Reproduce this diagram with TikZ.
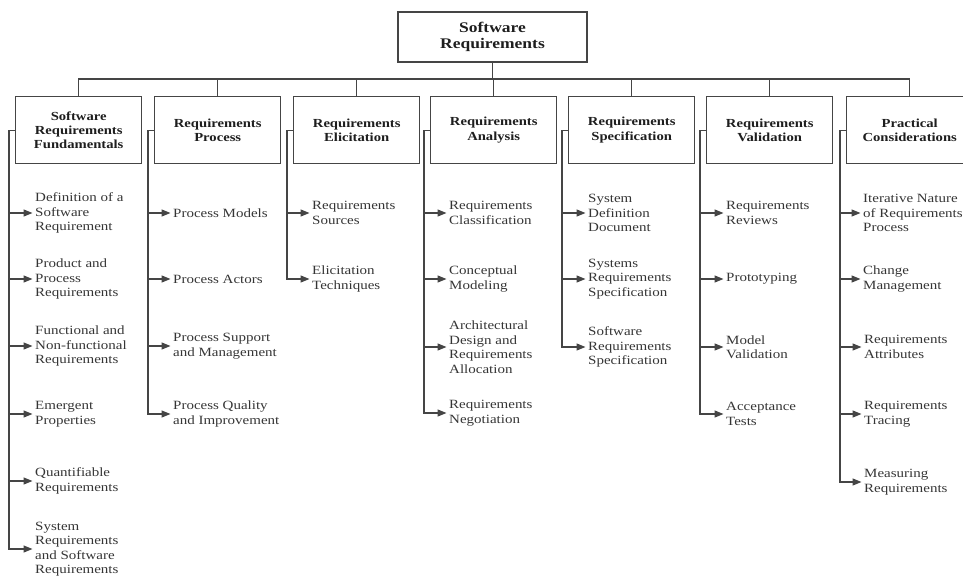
\documentclass[tikz,border=0pt]{standalone}
\usepackage{fontspec}
\setmainfont{Liberation Serif}[FakeStretch=1.19]
\usetikzlibrary{arrows.meta,calc}
\definecolor{linec}{HTML}{454545}
\definecolor{textc}{HTML}{353535}
\definecolor{headc}{HTML}{1E1E1E}
\begin{document}
\begin{tikzpicture}[x=1pt,y=-1pt,
  rootbox/.style={draw=linec,line width=1.4pt,minimum width=189pt,minimum height=50pt,inner sep=0pt,
    align=center,text=headc,font=\bfseries\fontsize{14.7}{16.6}\selectfont},
  headbox/.style={draw=linec,line width=1.4pt,minimum width=126pt,minimum height=67pt,inner sep=0pt,
    anchor=north west,align=center,text=headc,font=\bfseries\fontsize{12.3}{14.4}\selectfont},
  item/.style={anchor=west,align=left,inner sep=0pt,text=textc,font=\fontsize{12.6}{14.5}\selectfont},
  conn/.style={draw=linec,line width=1.3pt},
  arr/.style={conn,-{Triangle[length=9pt,width=7pt]},shorten >=2.5pt}
]
\path[use as bounding box] (0,0) rectangle (963,576);
\clip (0,0) rectangle (963,576);

% root
\node[rootbox] (root) at (492.5,37) {Software\\Requirements};
\coordinate (bus) at (0,79);

% headers
\node[headbox] (h1) at (15,96)  {Software\\Requirements\\Fundamentals};
\node[headbox] (h2) at (154,96) {Requirements\\Process};
\node[headbox] (h3) at (293,96) {Requirements\\Elicitation};
\node[headbox] (h4) at (430,96) {Requirements\\Analysis};
\node[headbox] (h5) at (568,96) {Requirements\\Specification};
\node[headbox] (h6) at (706,96) {Requirements\\Validation};
\node[headbox] (h7) at (846,96) {Practical\\Considerations};

% tree connectors
\draw[conn] (root.south) -- (root.south |- bus);
\draw[conn] (h1.north) -- (h1.north |- bus) -- (h7.north |- bus) -- (h7.north);
\foreach \k in {2,...,6} {\draw[conn] (h\k.north) -- (h\k.north |- bus);}

% column 1
\node[item] (a1) at (35,213) {Definition of a\\Software\\Requirement};
\node[item] (a2) at (35,279) {Product and\\Process\\Requirements};
\node[item] (a3) at (35,346) {Functional and\\Non-functional\\Requirements};
\node[item] (a4) at (35,414) {Emergent\\Properties};
\node[item] (a5) at (35,481) {Quantifiable\\Requirements};
\node[item] (a6) at (35,549) {System\\Requirements\\and Software\\Requirements};

% column 2
\node[item] (b1) at (173,213) {Process Models};
\node[item] (b2) at (173,279) {Process Actors};
\node[item] (b3) at (173,346) {Process Support\\and Management};
\node[item] (b4) at (173,414) {Process Quality\\and Improvement};

% column 3
\node[item] (c1) at (312,213) {Requirements\\Sources};
\node[item] (c2) at (312,279) {Elicitation\\Techniques};

% column 4
\node[item] (d1) at (449,213) {Requirements\\Classification};
\node[item] (d2) at (449,279) {Conceptual\\Modeling};
\node[item] (d3) at (449,347) {Architectural\\Design and\\Requirements\\Allocation};
\node[item] (d4) at (449,413) {Requirements\\Negotiation};

% column 5
\node[item] (e1) at (588,213) {System\\Definition\\Document};
\node[item] (e2) at (588,279) {Systems\\Requirements\\Specification};
\node[item] (e3) at (588,347) {Software\\Requirements\\Specification};

% column 6
\node[item] (f1) at (726,213) {Requirements\\Reviews};
\node[item] (f2) at (726,279) {Prototyping};
\node[item] (f3) at (726,347) {Model\\Validation};
\node[item] (f4) at (726,414) {Acceptance\\Tests};

% column 7
\node[item] (g1) at (863,213) {Iterative Nature\\of Requirements\\Process};
\node[item] (g2) at (863,279) {Change\\Management};
\node[item] (g3) at (864,347) {Requirements\\Attributes};
\node[item] (g4) at (864,414) {Requirements\\Tracing};
\node[item] (g5) at (864,482) {Measuring\\Requirements};

% side connectors with arrows
\foreach \h/\list in {h1/{a1,a2,a3,a4,a5,a6}, h2/{b1,b2,b3,b4}, h3/{c1,c2},
                      h4/{d1,d2,d3,d4}, h5/{e1,e2,e3}, h6/{f1,f2,f3,f4},
                      h7/{g1,g2,g3,g4,g5}} {
  \foreach \i in \list {
    \draw[arr] (\h.west) -- ++(-6,0) |- (\i.west);
  }
}
\end{tikzpicture}
\end{document}
